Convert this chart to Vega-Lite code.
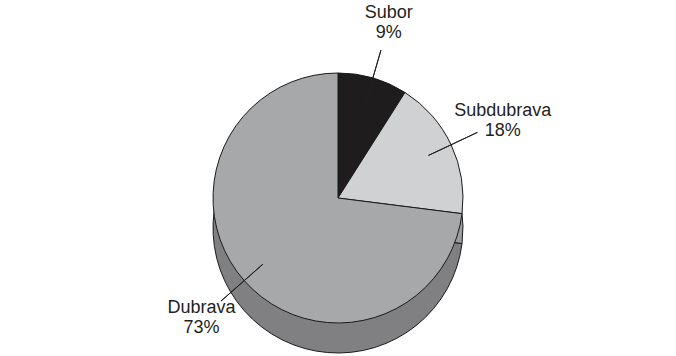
{
  "$schema": "https://vega.github.io/schema/vega-lite/v6.json",
  "width": 676,
  "height": 356,
  "autosize": {"type": "fit", "contains": "padding"},
  "padding": 0,
  "background": "white",
  "config": {"view": {"stroke": null}, "text": {"font": "Liberation Sans", "fontSize": 18, "fill": "#231f20"}},
  "data": {
    "values": [
      {"name": "Subor", "value": 9, "pct": "9%"},
      {"name": "Subdubrava", "value": 18, "pct": "18%"},
      {"name": "Dubrava", "value": 73, "pct": "73%"}
    ]
  },
  "encoding": {
    "theta": {"field": "value", "type": "quantitative", "stack": true},
    "order": {"field": "value", "sort": "ascending"}
  },
  "layer": [
    {
      "mark": {"type": "arc", "radius": 125, "yOffset": 50, "stroke": "#1a1a1a", "strokeWidth": 1},
      "encoding": {
        "color": {
          "field": "name", "type": "nominal", "legend": null,
          "scale": {"domain": ["Subor", "Subdubrava", "Dubrava"], "range": ["#151314", "#9c9c9e", "#808083"]}
        }
      }
    },
    {
      "mark": {"type": "arc", "radius": 125, "yOffset": 20, "stroke": "#1a1a1a", "strokeWidth": 1},
      "encoding": {
        "color": {
          "field": "name", "type": "nominal", "legend": null,
          "scale": {"domain": ["Subor", "Subdubrava", "Dubrava"], "range": ["#1f1c1e", "#d0d1d3", "#a7a8aa"]}
        }
      }
    },
    {
      "description": "Leader lines for the two small slices: a wide padAngle shrinks each wedge to a single radial stroke at its middle.",
      "mark": {"type": "arc", "radius": 154, "radius2": 100, "padAngle": 3, "yOffset": 20, "fill": null, "stroke": "#231f20", "strokeWidth": 1},
      "encoding": {
        "strokeOpacity": {"condition": {"test": "datum.name === 'Dubrava'", "value": 0}, "value": 1}
      }
    },
    {
      "description": "Leader line for Dubrava, on a half-turn theta range so the wide wedge also collapses to a stroke.",
      "mark": {"type": "arc", "radius": 156, "radius2": 100, "padAngle": 3, "yOffset": 20, "fill": null, "stroke": "#231f20", "strokeWidth": 1},
      "encoding": {
        "theta": {"field": "value", "type": "quantitative", "stack": true, "scale": {"range": [1.995, 5.137]}},
        "strokeOpacity": {"condition": {"test": "datum.name === 'Dubrava'", "value": 1}, "value": 0}
      }
    },
    {
      "mark": {"type": "text", "radius": 182, "yOffset": 20, "dy": -10},
      "encoding": {"text": {"field": "name"}}
    },
    {
      "mark": {"type": "text", "radius": 182, "yOffset": 20, "dy": 10},
      "encoding": {"text": {"field": "pct"}}
    }
  ],
  "resolve": {"scale": {"color": "independent", "theta": "independent"}}
}
